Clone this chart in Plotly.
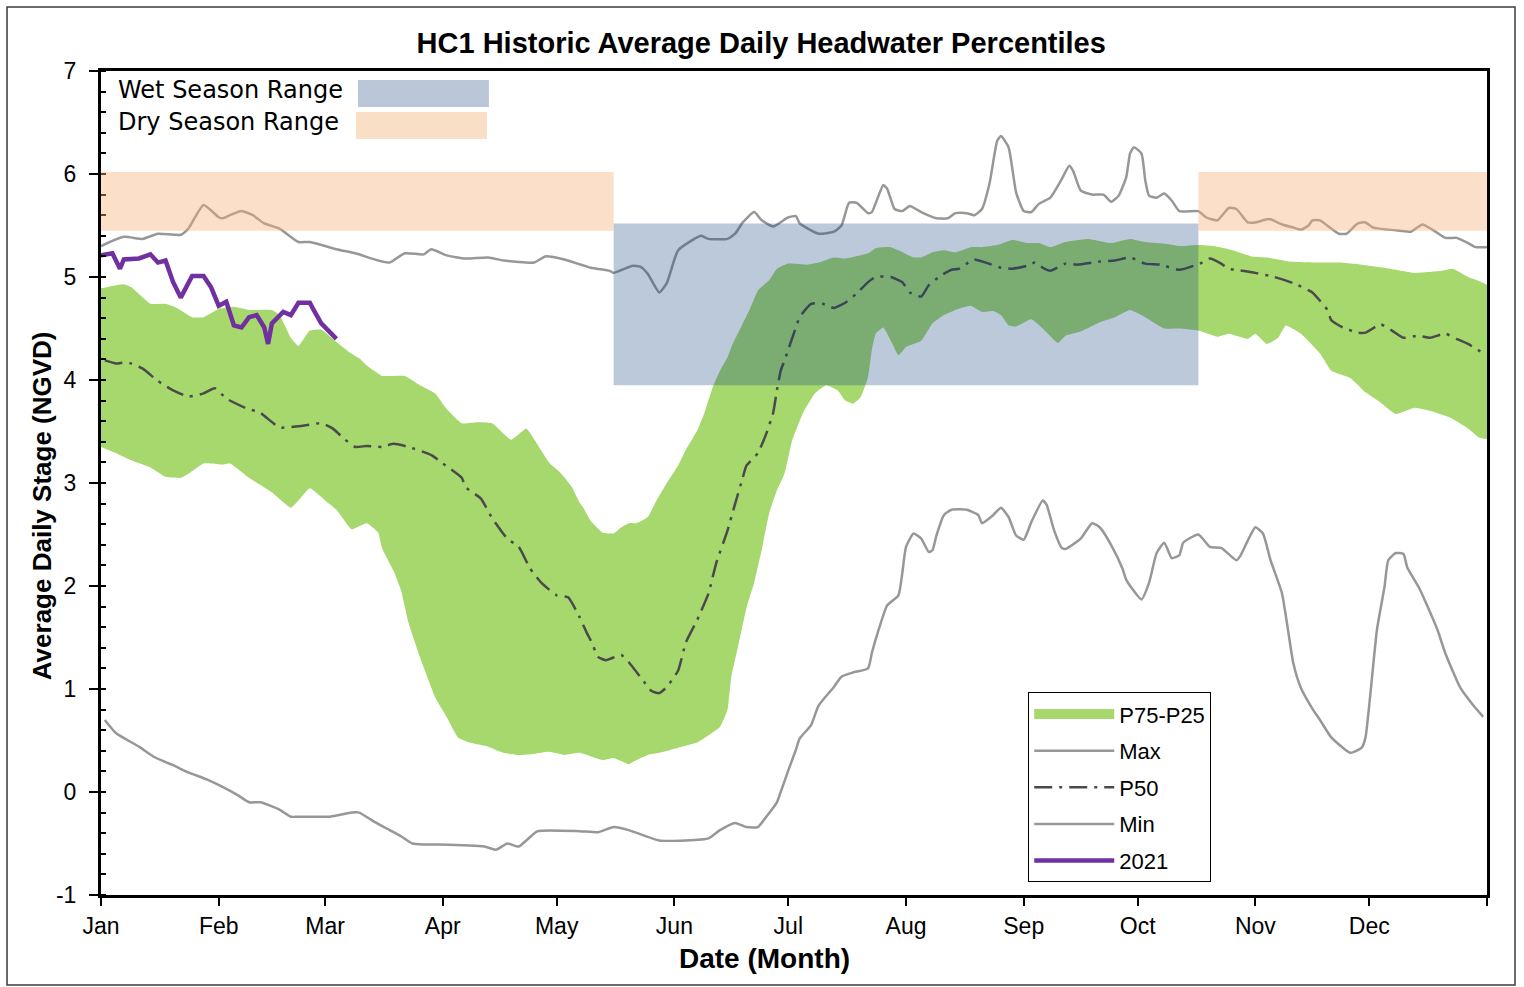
import plotly.graph_objects as go

# ---------------- data (day of year, stage in ft NGVD) ----------------
month_ticks = [0, 31, 59, 90, 120, 151, 181, 212, 243, 273, 304, 334, 365]
month_labels = ["Jan", "Feb", "Mar", "Apr", "May", "Jun", "Jul", "Aug", "Sep", "Oct", "Nov", "Dec", ""]
stage_ticks = [-1, 0, 1, 2, 3, 4, 5, 6, 7]
stage_labels = ["-1", "0", "1", "2", "3", "4", "5", "6", "7"]

max_day = [0, 6, 11, 15, 21, 23, 27, 31, 32, 34, 37, 40, 43, 47, 52, 55, 62, 67, 73, 76, 80, 85, 87, 91, 96,
           102, 106, 114, 117, 122, 129, 134, 135, 140, 142, 144, 147, 149, 150, 152, 158, 160, 165, 167, 169,
           172, 174, 177, 181, 183, 184, 189, 193, 195, 197, 199, 202, 203, 206, 207, 209, 211, 213, 216, 220,
           223, 225, 228, 230, 232, 234, 236, 237, 239, 241, 243, 245, 247, 250, 253, 255, 256, 258, 261, 264,
           266, 268, 270, 271, 272, 274, 275, 276, 278, 280, 282, 284, 289, 291, 294, 297, 299, 302, 304, 307,
           308, 311, 314, 316, 318, 319, 321, 324, 326, 328, 331, 333, 335, 339, 342, 345, 348, 351, 354, 357,
           360, 362, 365]
max_stage = [5.30, 5.39, 5.37, 5.42, 5.41, 5.47, 5.70, 5.58, 5.57, 5.60, 5.64, 5.60, 5.52, 5.47, 5.34, 5.34,
             5.27, 5.23, 5.16, 5.14, 5.23, 5.22, 5.27, 5.21, 5.18, 5.19, 5.16, 5.14, 5.20, 5.17, 5.09, 5.06,
             5.04, 5.11, 5.10, 5.03, 4.85, 4.94, 5.05, 5.26, 5.40, 5.37, 5.37, 5.42, 5.53, 5.63, 5.55, 5.49,
             5.58, 5.59, 5.52, 5.42, 5.44, 5.50, 5.72, 5.72, 5.62, 5.63, 5.89, 5.86, 5.66, 5.64, 5.69, 5.63,
             5.57, 5.57, 5.62, 5.62, 5.60, 5.66, 5.91, 6.32, 6.37, 6.26, 5.82, 5.64, 5.63, 5.71, 5.77, 5.95,
             6.08, 6.03, 5.84, 5.80, 5.80, 5.73, 5.79, 5.97, 6.20, 6.26, 6.20, 5.94, 5.79, 5.77, 5.81, 5.74,
             5.64, 5.64, 5.58, 5.55, 5.67, 5.66, 5.53, 5.53, 5.56, 5.56, 5.51, 5.48, 5.46, 5.50, 5.55, 5.55,
             5.47, 5.42, 5.42, 5.52, 5.53, 5.48, 5.46, 5.45, 5.44, 5.51, 5.45, 5.38, 5.38, 5.33, 5.29, 5.29]

min_day = [1, 4, 10, 14, 19, 23, 28, 32, 36, 39, 42, 47, 50, 52, 56, 60, 63, 66, 68, 72, 76, 79, 82, 85, 89,
           101, 104, 107, 110, 112, 115, 126, 131, 135, 139, 147, 154, 160, 163, 167, 170, 173, 175, 178, 179,
           181, 183, 184, 187, 189, 193, 195, 198, 202, 203, 205, 207, 210, 211, 212, 214, 216, 218, 219, 220,
           222, 224, 228, 231, 232, 235, 237, 239, 241, 243, 245, 248, 249, 251, 253, 254, 258, 261, 263, 266,
           269, 270, 274, 276, 278, 280, 282, 284, 285, 289, 292, 295, 299, 300, 302, 304, 306, 308, 311, 314,
           316, 319, 321, 324, 329, 332, 333, 336, 338, 339, 341, 343, 344, 347, 349, 352, 354, 358, 361, 364]
min_stage = [0.70, 0.57, 0.44, 0.34, 0.26, 0.19, 0.12, 0.05, -0.03, -0.10, -0.10, -0.17, -0.24, -0.24, -0.24,
             -0.24, -0.22, -0.20, -0.20, -0.29, -0.37, -0.43, -0.50, -0.51, -0.51, -0.53, -0.56, -0.50, -0.53,
             -0.47, -0.38, -0.38, -0.39, -0.34, -0.37, -0.47, -0.47, -0.45, -0.37, -0.30, -0.34, -0.34, -0.25,
             -0.10, 0.00, 0.21, 0.41, 0.52, 0.65, 0.84, 1.02, 1.12, 1.16, 1.20, 1.35, 1.60, 1.81, 1.91, 2.12,
             2.38, 2.51, 2.46, 2.33, 2.35, 2.49, 2.69, 2.74, 2.74, 2.69, 2.61, 2.69, 2.76, 2.67, 2.49, 2.45,
             2.62, 2.83, 2.79, 2.54, 2.37, 2.36, 2.46, 2.61, 2.57, 2.40, 2.17, 2.06, 1.87, 2.03, 2.32, 2.42,
             2.27, 2.30, 2.42, 2.50, 2.38, 2.37, 2.25, 2.29, 2.44, 2.57, 2.51, 2.25, 1.93, 1.25, 1.01, 0.81,
             0.70, 0.53, 0.38, 0.43, 0.53, 1.57, 1.99, 2.25, 2.32, 2.31, 2.18, 1.99, 1.83, 1.57, 1.35, 1.01,
             0.86, 0.73]

p50_day = [1, 4, 6, 8, 11, 15, 19, 23, 27, 30, 33, 38, 42, 47, 52, 58, 61, 64, 67, 70, 74, 77, 81, 87, 90, 95,
           96, 100, 103, 107, 110, 113, 116, 120, 123, 126, 128, 129, 131, 133, 137, 139, 143, 145, 147, 149,
           152, 154, 157, 160, 162, 165, 167, 169, 170, 173, 175, 177, 178, 179, 180, 183, 184, 187, 190, 193,
           196, 199, 202, 204, 208, 211, 213, 216, 218, 221, 224, 226, 228, 230, 233, 237, 240, 244, 246, 248,
           250, 254, 257, 263, 267, 271, 275, 279, 284, 290, 292, 295, 297, 299, 304, 309, 314, 319, 321, 323,
           324, 327, 331, 333, 337, 340, 343, 347, 350, 354, 357, 360, 364]
p50_stage = [4.19, 4.16, 4.17, 4.16, 4.11, 3.99, 3.90, 3.84, 3.87, 3.92, 3.82, 3.73, 3.68, 3.54, 3.55, 3.58,
             3.53, 3.43, 3.35, 3.36, 3.35, 3.38, 3.35, 3.27, 3.19, 3.05, 2.96, 2.85, 2.66, 2.46, 2.38, 2.17,
             2.03, 1.91, 1.89, 1.70, 1.54, 1.47, 1.31, 1.28, 1.33, 1.26, 1.07, 0.98, 0.96, 1.02, 1.18, 1.45,
             1.67, 1.93, 2.22, 2.54, 2.80, 3.05, 3.17, 3.29, 3.46, 3.68, 3.90, 4.09, 4.19, 4.51, 4.61, 4.74,
             4.74, 4.70, 4.75, 4.84, 4.95, 5.00, 5.00, 4.95, 4.85, 4.81, 4.92, 5.01, 5.07, 5.08, 5.13, 5.17,
             5.14, 5.09, 5.08, 5.11, 5.14, 5.09, 5.06, 5.13, 5.12, 5.15, 5.16, 5.19, 5.13, 5.12, 5.07, 5.14,
             5.18, 5.13, 5.08, 5.07, 5.04, 5.00, 4.94, 4.85, 4.77, 4.68, 4.58, 4.51, 4.46, 4.46, 4.54, 4.48,
             4.41, 4.43, 4.41, 4.45, 4.40, 4.35, 4.26]

p75_day = [0, 6, 8, 11, 13, 17, 20, 24, 27, 31, 35, 39, 45, 47, 50, 52, 55, 58, 61, 65, 68, 70, 74, 80, 84, 88,
           91, 95, 99, 103, 108, 112, 114, 118, 121, 124, 126, 127, 129, 132, 135, 137, 139, 141, 144, 146, 149,
           152, 154, 157, 159, 161, 163, 165, 166, 171, 173, 176, 178, 181, 186, 189, 193, 196, 202, 204, 208,
           210, 214, 216, 219, 222, 225, 229, 232, 236, 240, 244, 247, 250, 254, 260, 266, 271, 275, 281, 284,
           289, 293, 298, 303, 307, 313, 320, 326, 332, 338, 346, 353, 356, 360, 365]
p75_stage = [4.89, 4.93, 4.90, 4.80, 4.74, 4.74, 4.70, 4.61, 4.61, 4.69, 4.71, 4.68, 4.68, 4.63, 4.41, 4.33,
             4.48, 4.49, 4.40, 4.28, 4.21, 4.14, 4.04, 4.04, 3.95, 3.87, 3.72, 3.58, 3.59, 3.58, 3.42, 3.53,
             3.43, 3.20, 3.10, 2.96, 2.81, 2.76, 2.63, 2.52, 2.51, 2.57, 2.61, 2.61, 2.67, 2.81, 3.00, 3.17,
             3.32, 3.51, 3.69, 3.92, 4.09, 4.22, 4.32, 4.70, 4.87, 4.97, 5.08, 5.13, 5.12, 5.14, 5.19, 5.18,
             5.23, 5.28, 5.29, 5.26, 5.19, 5.19, 5.24, 5.26, 5.24, 5.29, 5.29, 5.31, 5.36, 5.33, 5.33, 5.29,
             5.34, 5.37, 5.33, 5.37, 5.34, 5.32, 5.30, 5.31, 5.30, 5.26, 5.20, 5.19, 5.15, 5.14, 5.14, 5.12,
             5.09, 5.04, 5.06, 5.08, 5.00, 4.92]

p25_day = [0, 4, 8, 13, 17, 21, 23, 27, 29, 32, 34, 39, 45, 50, 52, 55, 60, 62, 65, 66, 70, 73, 74, 77, 79, 81,
           84, 88, 91, 94, 97, 102, 106, 110, 114, 118, 122, 126, 132, 135, 137, 139, 141, 144, 147, 152, 157,
           160, 163, 165, 166, 168, 170, 172, 174, 176, 178, 180, 182, 185, 188, 191, 194, 196, 198, 200, 202,
           203, 204, 206, 208, 210, 212, 216, 219, 222, 225, 229, 232, 235, 237, 239, 241, 245, 248, 252, 254,
           258, 263, 267, 271, 274, 280, 284, 289, 294, 297, 302, 304, 307, 310, 312, 316, 321, 324, 329, 333,
           337, 341, 346, 351, 355, 360, 363, 365]
p25_stage = [3.35, 3.29, 3.22, 3.15, 3.06, 3.05, 3.09, 3.19, 3.19, 3.18, 3.19, 3.05, 2.91, 2.76, 2.83, 2.95,
             2.80, 2.74, 2.59, 2.55, 2.61, 2.52, 2.37, 2.15, 1.96, 1.64, 1.31, 0.92, 0.73, 0.53, 0.48, 0.44,
             0.38, 0.36, 0.37, 0.39, 0.36, 0.38, 0.31, 0.33, 0.30, 0.27, 0.31, 0.36, 0.38, 0.43, 0.48, 0.55,
             0.63, 0.80, 1.12, 1.45, 1.79, 2.03, 2.35, 2.71, 2.93, 3.09, 3.41, 3.69, 3.87, 3.95, 3.90, 3.80,
             3.77, 3.83, 4.03, 4.29, 4.45, 4.51, 4.38, 4.24, 4.32, 4.38, 4.55, 4.63, 4.68, 4.72, 4.66, 4.67,
             4.63, 4.53, 4.52, 4.59, 4.50, 4.36, 4.43, 4.47, 4.56, 4.61, 4.68, 4.63, 4.50, 4.50, 4.48, 4.42,
             4.45, 4.40, 4.45, 4.35, 4.41, 4.53, 4.45, 4.26, 4.09, 4.02, 3.88, 3.78, 3.67, 3.73, 3.69, 3.64,
             3.53, 3.44, 3.43]

y2021_day = [0, 3, 5, 6, 10, 13, 15, 17, 19, 21, 24, 27, 29, 31, 33, 35, 37, 39, 41, 43, 44, 45, 48, 50, 52,
             55, 56, 58, 62]
y2021_stage = [5.21, 5.23, 5.08, 5.17, 5.18, 5.22, 5.14, 5.16, 4.95, 4.80, 5.01, 5.01, 4.90, 4.72, 4.76,
               4.53, 4.51, 4.61, 4.63, 4.51, 4.35, 4.55, 4.66, 4.63, 4.75, 4.75, 4.68, 4.55, 4.40]

wet_season_days = [135, 289]
wet_season_stage = [3.95, 5.52]
dry_season_days = [[0, 135], [289, 365]]
dry_season_stage = [5.45, 6.02]

# ---------------- style ----------------
GREEN = "#a6d86e"
GRAY = "#979797"
P50C = "#4a4a4a"
PURPLE = "#7030a0"
WET = "rgba(15,60,125,0.28)"
DRY = "rgba(244,176,120,0.40)"
WET_SOLID = "#bbc7d8"
DRY_SOLID = "#fadfc7"
FONT = "Arial, Liberation Sans, sans-serif"

fig = go.Figure()

fig.add_trace(go.Scatter(
    x=p75_day + p25_day[::-1], y=p75_stage + p25_stage[::-1],
    mode="lines", fill="toself", fillcolor=GREEN, line=dict(width=0, shape="spline", smoothing=0.4),
    showlegend=False, hoverinfo="skip"))
fig.add_trace(go.Scatter(x=[None], y=[None], mode="lines", name="P75-P25",
                         line=dict(color=GREEN, width=10), legendgroup="a"))
fig.add_trace(go.Scatter(x=max_day, y=max_stage, mode="lines", name="Max", legendgroup="b",
                         line=dict(color=GRAY, width=2.5, shape="spline", smoothing=0.5)))
fig.add_trace(go.Scatter(x=p50_day, y=p50_stage, mode="lines", name="P50", legendgroup="c",
                         line=dict(color=P50C, width=2.5, dash="18px,7px,3px,7px", shape="spline", smoothing=0.5)))
fig.add_trace(go.Scatter(x=min_day, y=min_stage, mode="lines", name="Min", legendgroup="d",
                         line=dict(color=GRAY, width=2.5, shape="spline", smoothing=0.5)))
fig.add_trace(go.Scatter(x=y2021_day, y=y2021_stage, mode="lines", name="2021", legendgroup="e",
                         line=dict(color=PURPLE, width=4.5)))

shapes = [
    dict(type="rect", xref="x", yref="y", x0=wet_season_days[0], x1=wet_season_days[1],
         y0=wet_season_stage[0], y1=wet_season_stage[1], fillcolor=WET, line=dict(width=0), layer="above"),
]
for d0, d1 in dry_season_days:
    shapes.append(dict(type="rect", xref="x", yref="y", x0=d0, x1=d1,
                       y0=dry_season_stage[0], y1=dry_season_stage[1], fillcolor=DRY,
                       line=dict(width=0), layer="above"))
# key boxes at the top left
shapes.append(dict(type="rect", xref="paper", yref="paper", x0=0.1854, x1=0.2799, y0=0.9563, y1=0.9891,
                   fillcolor=WET_SOLID, line=dict(width=0)))
shapes.append(dict(type="rect", xref="paper", yref="paper", x0=0.1840, x1=0.2785, y0=0.9175, y1=0.9502,
                   fillcolor=DRY_SOLID, line=dict(width=0)))
# outer chart frame
shapes.append(dict(type="rect", xref="paper", yref="paper", x0=-0.0678, x1=1.0202, y0=-0.1092, y1=1.0777,
                   line=dict(color="#3a3a3a", width=1.5), fillcolor="rgba(0,0,0,0)", layer="below"))

annotations = [
    dict(text="Wet Season Range", xref="paper", yref="paper", x=0.0108, y=0.977, xanchor="left",
         yanchor="middle", showarrow=False, font=dict(family="DejaVu Sans", size=24, color="black")),
    dict(text="Dry Season Range", xref="paper", yref="paper", x=0.0108, y=0.938, xanchor="left",
         yanchor="middle", showarrow=False, font=dict(family="DejaVu Sans", size=24, color="black")),
    dict(text="<b>Average Daily Stage (NGVD)</b>", xref="paper", yref="paper", x=-0.0426, y=0.473,
         xanchor="center", yanchor="middle", textangle=-90, showarrow=False,
         font=dict(family=FONT, size=26, color="black")),
    dict(text="<b>Date (Month)</b>", xref="paper", yref="paper", x=0.479, y=-0.0765,
         xanchor="center", yanchor="middle", showarrow=False,
         font=dict(family=FONT, size=28, color="black")),
]

fig.update_layout(
    width=1524, height=987, autosize=False,
    margin=dict(l=101, r=37, t=71, b=92),
    paper_bgcolor="white", plot_bgcolor="white",
    title=dict(text="<b>HC1 Historic Average Daily Headwater Percentiles</b>", x=0.4995, xanchor="center",
               y=1 - 43 / 987, yanchor="middle", font=dict(family=FONT, size=29, color="black")),
    shapes=shapes, annotations=annotations,
    showlegend=True,
    legend=dict(x=0.669, y=0.246, xanchor="left", yanchor="top", bgcolor="white",
                bordercolor="black", borderwidth=1, font=dict(family=FONT, size=22, color="black"),
                traceorder="grouped", tracegroupgap=5, itemwidth=80,
                entrywidth=195, entrywidthmode="pixels"),
    xaxis=dict(range=[0, 365], tickmode="array", tickvals=month_ticks, ticktext=month_labels,
               ticks="outside", ticklen=8, tickwidth=2, tickcolor="black",
               showline=True, linecolor="black", linewidth=3, mirror=True,
               showgrid=False, zeroline=False,
               tickfont=dict(family=FONT, size=23, color="black")),
    yaxis=dict(range=[-1, 7], tickmode="array", tickvals=stage_ticks, ticktext=stage_labels,
               ticks="outside", ticklen=9, tickwidth=2, tickcolor="black", ticklabelstandoff=8,
               minor=dict(dtick=0.2, tick0=-1, ticks="inside", ticklen=5, tickwidth=2, tickcolor="black"),
               showline=True, linecolor="black", linewidth=3, mirror=True,
               showgrid=False, zeroline=False,
               tickfont=dict(family=FONT, size=23, color="black")),
)

fig.write_html("out.html", config={"displayModeBar": False},
               post_script="document.body.style.margin='0';")
